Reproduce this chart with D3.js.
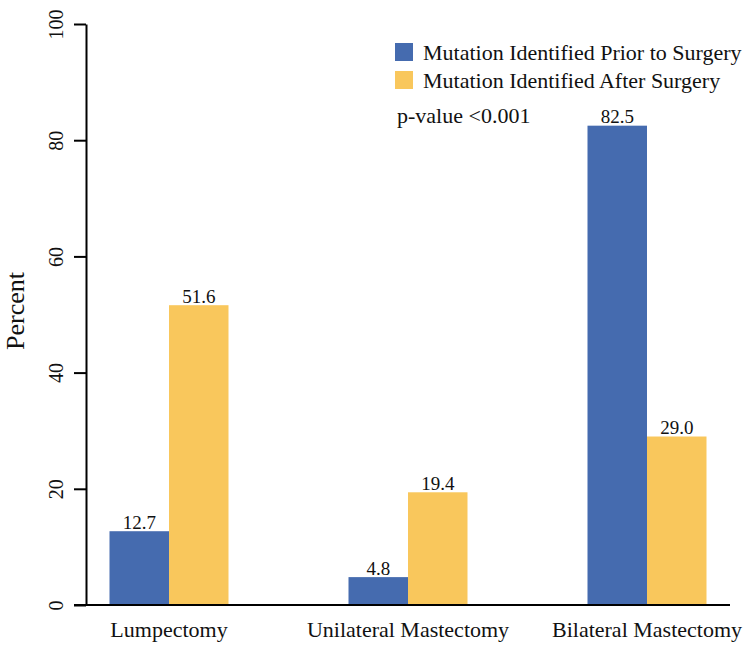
<!DOCTYPE html>
<html><head><meta charset="utf-8">
<script src="https://cdn.jsdelivr.net/npm/d3@7"></script>
<style>body{margin:0;background:#fff}svg{display:block}text{font-family:"Liberation Serif","Times New Roman",serif;fill:#111}</style>
</head><body>
<svg id="c" width="751" height="649"></svg>
<script>
const categories = ["Lumpectomy", "Unilateral Mastectomy", "Bilateral Mastectomy"];
const seriesNames = ["Mutation Identified Prior to Surgery", "Mutation Identified After Surgery"];
const priorValues = [12.7, 4.8, 82.5];
const afterValues = [51.6, 19.4, 29.0];
const yTicks = [0, 20, 40, 60, 80, 100];
const colors = ["#456BAF", "#F9C75C"];
const pLabel = "p-value <0.001";

const svg = d3.select("#c");
const y = d3.scaleLinear().domain([0, 100]).range([605, 24]);
const x0 = d3.scaleBand().domain(categories).range([49.5, 766.5]);
const x1 = d3.scaleBand().domain(seriesNames).range([60, 179]);
const seriesVals = [priorValues, afterValues];

// bars
categories.forEach((c, i) => {
  seriesNames.forEach((s, j) => {
    const v = seriesVals[j][i];
    svg.append("rect")
      .attr("x", x0(c) + x1(s))
      .attr("y", y(v))
      .attr("width", x1.bandwidth())
      .attr("height", y(0) - y(v))
      .attr("fill", colors[j]);
    svg.append("text")
      .attr("x", x0(c) + x1(s) + x1.bandwidth() / 2)
      .attr("y", y(v) - 2.5)
      .attr("text-anchor", "middle")
      .style("font-size", "19px")
      .text(v.toFixed(1));
  });
});

// y axis
const yAxis = d3.axisLeft(y).tickValues(yTicks).tickSize(12).tickSizeOuter(0).tickFormat(d3.format("d"));
const gy = svg.append("g").attr("transform", "translate(86,0)").call(yAxis);
gy.select(".domain").attr("stroke", "#000").attr("stroke-width", 2);
gy.selectAll(".tick line").attr("stroke", "#000").attr("stroke-width", 2);
gy.selectAll(".tick text")
  .attr("x", null).attr("dy", null)
  .attr("transform", "translate(-23,0) rotate(-90)")
  .attr("text-anchor", "middle")
  .style("font-size", "20px")
  .style("font-family", "'Liberation Serif', serif")
  .attr("fill", "#111");

// x axis line
svg.append("line").attr("x1", 74).attr("x2", 730).attr("y1", y(0)).attr("y2", y(0))
  .attr("stroke", "#000").attr("stroke-width", 2);
const xAxis = d3.axisBottom(x0).tickSize(0).tickSizeOuter(0);
const gx = svg.append("g").attr("transform", `translate(0,${y(0)})`).call(xAxis);
gx.select(".domain").remove();
gx.selectAll(".tick text").attr("dy", null).attr("y", 32)
  .style("font-size", "22px").style("font-family", "'Liberation Serif', serif").attr("fill", "#111");

// y title
svg.append("text").attr("transform", "translate(24,311) rotate(-90)")
  .attr("text-anchor", "middle").style("font-size", "26px").text("Percent");

// legend
seriesNames.forEach((s, j) => {
  const ly = 43 + j * 28;
  svg.append("rect").attr("x", 395).attr("y", ly).attr("width", 18).attr("height", 18).attr("fill", colors[j]);
  svg.append("text").attr("x", 423).attr("y", ly + 17).style("font-size", "22px").text(s);
});
svg.append("text").attr("x", 397).attr("y", 123).style("font-size", "22px").text(pLabel);
</script>
</body></html>
